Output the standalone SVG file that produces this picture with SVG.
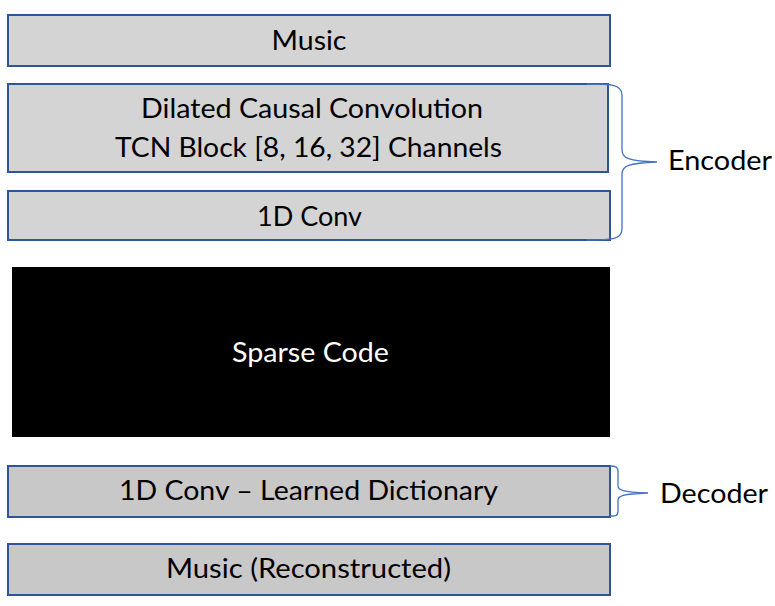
<svg xmlns="http://www.w3.org/2000/svg" width="775" height="606" viewBox="0 0 775 606">
<style>
.box{fill:#d4d4d4;stroke:#2f5597;stroke-width:2}
.box2{fill:#c9c8c8;stroke:#2f5597;stroke-width:2}
.t{font-family:Lato,"Open Sans","Liberation Sans",sans-serif;font-size:27px;fill:#000;text-anchor:middle}
.w{fill:#fff}
.lab{font-family:Lato,"Open Sans","Liberation Sans",sans-serif;font-size:27px;fill:#000}
.brace{fill:none;stroke:#4472c4;stroke-width:1.3}
</style>
<rect width="775" height="606" fill="#fff"/>
<g id="music">
<rect class="box" x="8" y="15" width="602" height="51"/>
<text class="t" x="309" y="50" textLength="75" lengthAdjust="spacingAndGlyphs">Music</text>
</g>
<g id="tcn">
<rect class="box" x="8" y="84" width="600" height="88"/>
<text class="t" x="312" y="118" textLength="342" lengthAdjust="spacingAndGlyphs">Dilated Causal Convolution</text>
<text class="t" x="308.5" y="157" textLength="387" lengthAdjust="spacingAndGlyphs">TCN Block [8, 16, 32] Channels</text>
</g>
<g id="conv1d">
<rect class="box" x="8" y="191" width="602" height="49"/>
<text class="t" x="309.5" y="226" textLength="105" lengthAdjust="spacingAndGlyphs">1D Conv</text>
</g>
<g id="sparse">
<rect x="12" y="267" width="598" height="170" fill="#000"/>
<text class="t w" x="310.5" y="362" textLength="157" lengthAdjust="spacingAndGlyphs">Sparse Code</text>
</g>
<g id="dict">
<rect class="box2" x="8" y="466" width="602" height="51"/>
<text class="t" x="308.5" y="500" textLength="379" lengthAdjust="spacingAndGlyphs">1D Conv – Learned Dictionary</text>
</g>
<g id="recon">
<rect class="box2" x="8" y="544" width="602" height="51"/>
<text class="t" x="308.5" y="578" textLength="285" lengthAdjust="spacingAndGlyphs">Music (Reconstructed)</text>
</g>
<g id="encoder">
<path class="brace" d="M587,84 C610,84 622,84 622,95 L622,150 C622,158 628,161 657,162 C628,163 622,166 622,174 L622,229 C622,240 610,240 587,240"/>
<text class="lab" x="668" y="170" textLength="104" lengthAdjust="spacingAndGlyphs">Encoder</text>
</g>
<g id="decoder">
<path class="brace" d="M610,466 C616,466 618,467 618,472 L618,486 C618,490 622,492 648,493 C622,494 618,496 618,500 L618,511 C618,516 616,516 610,516"/>
<text class="lab" x="660" y="503" textLength="108" lengthAdjust="spacingAndGlyphs">Decoder</text>
</g>
</svg>
